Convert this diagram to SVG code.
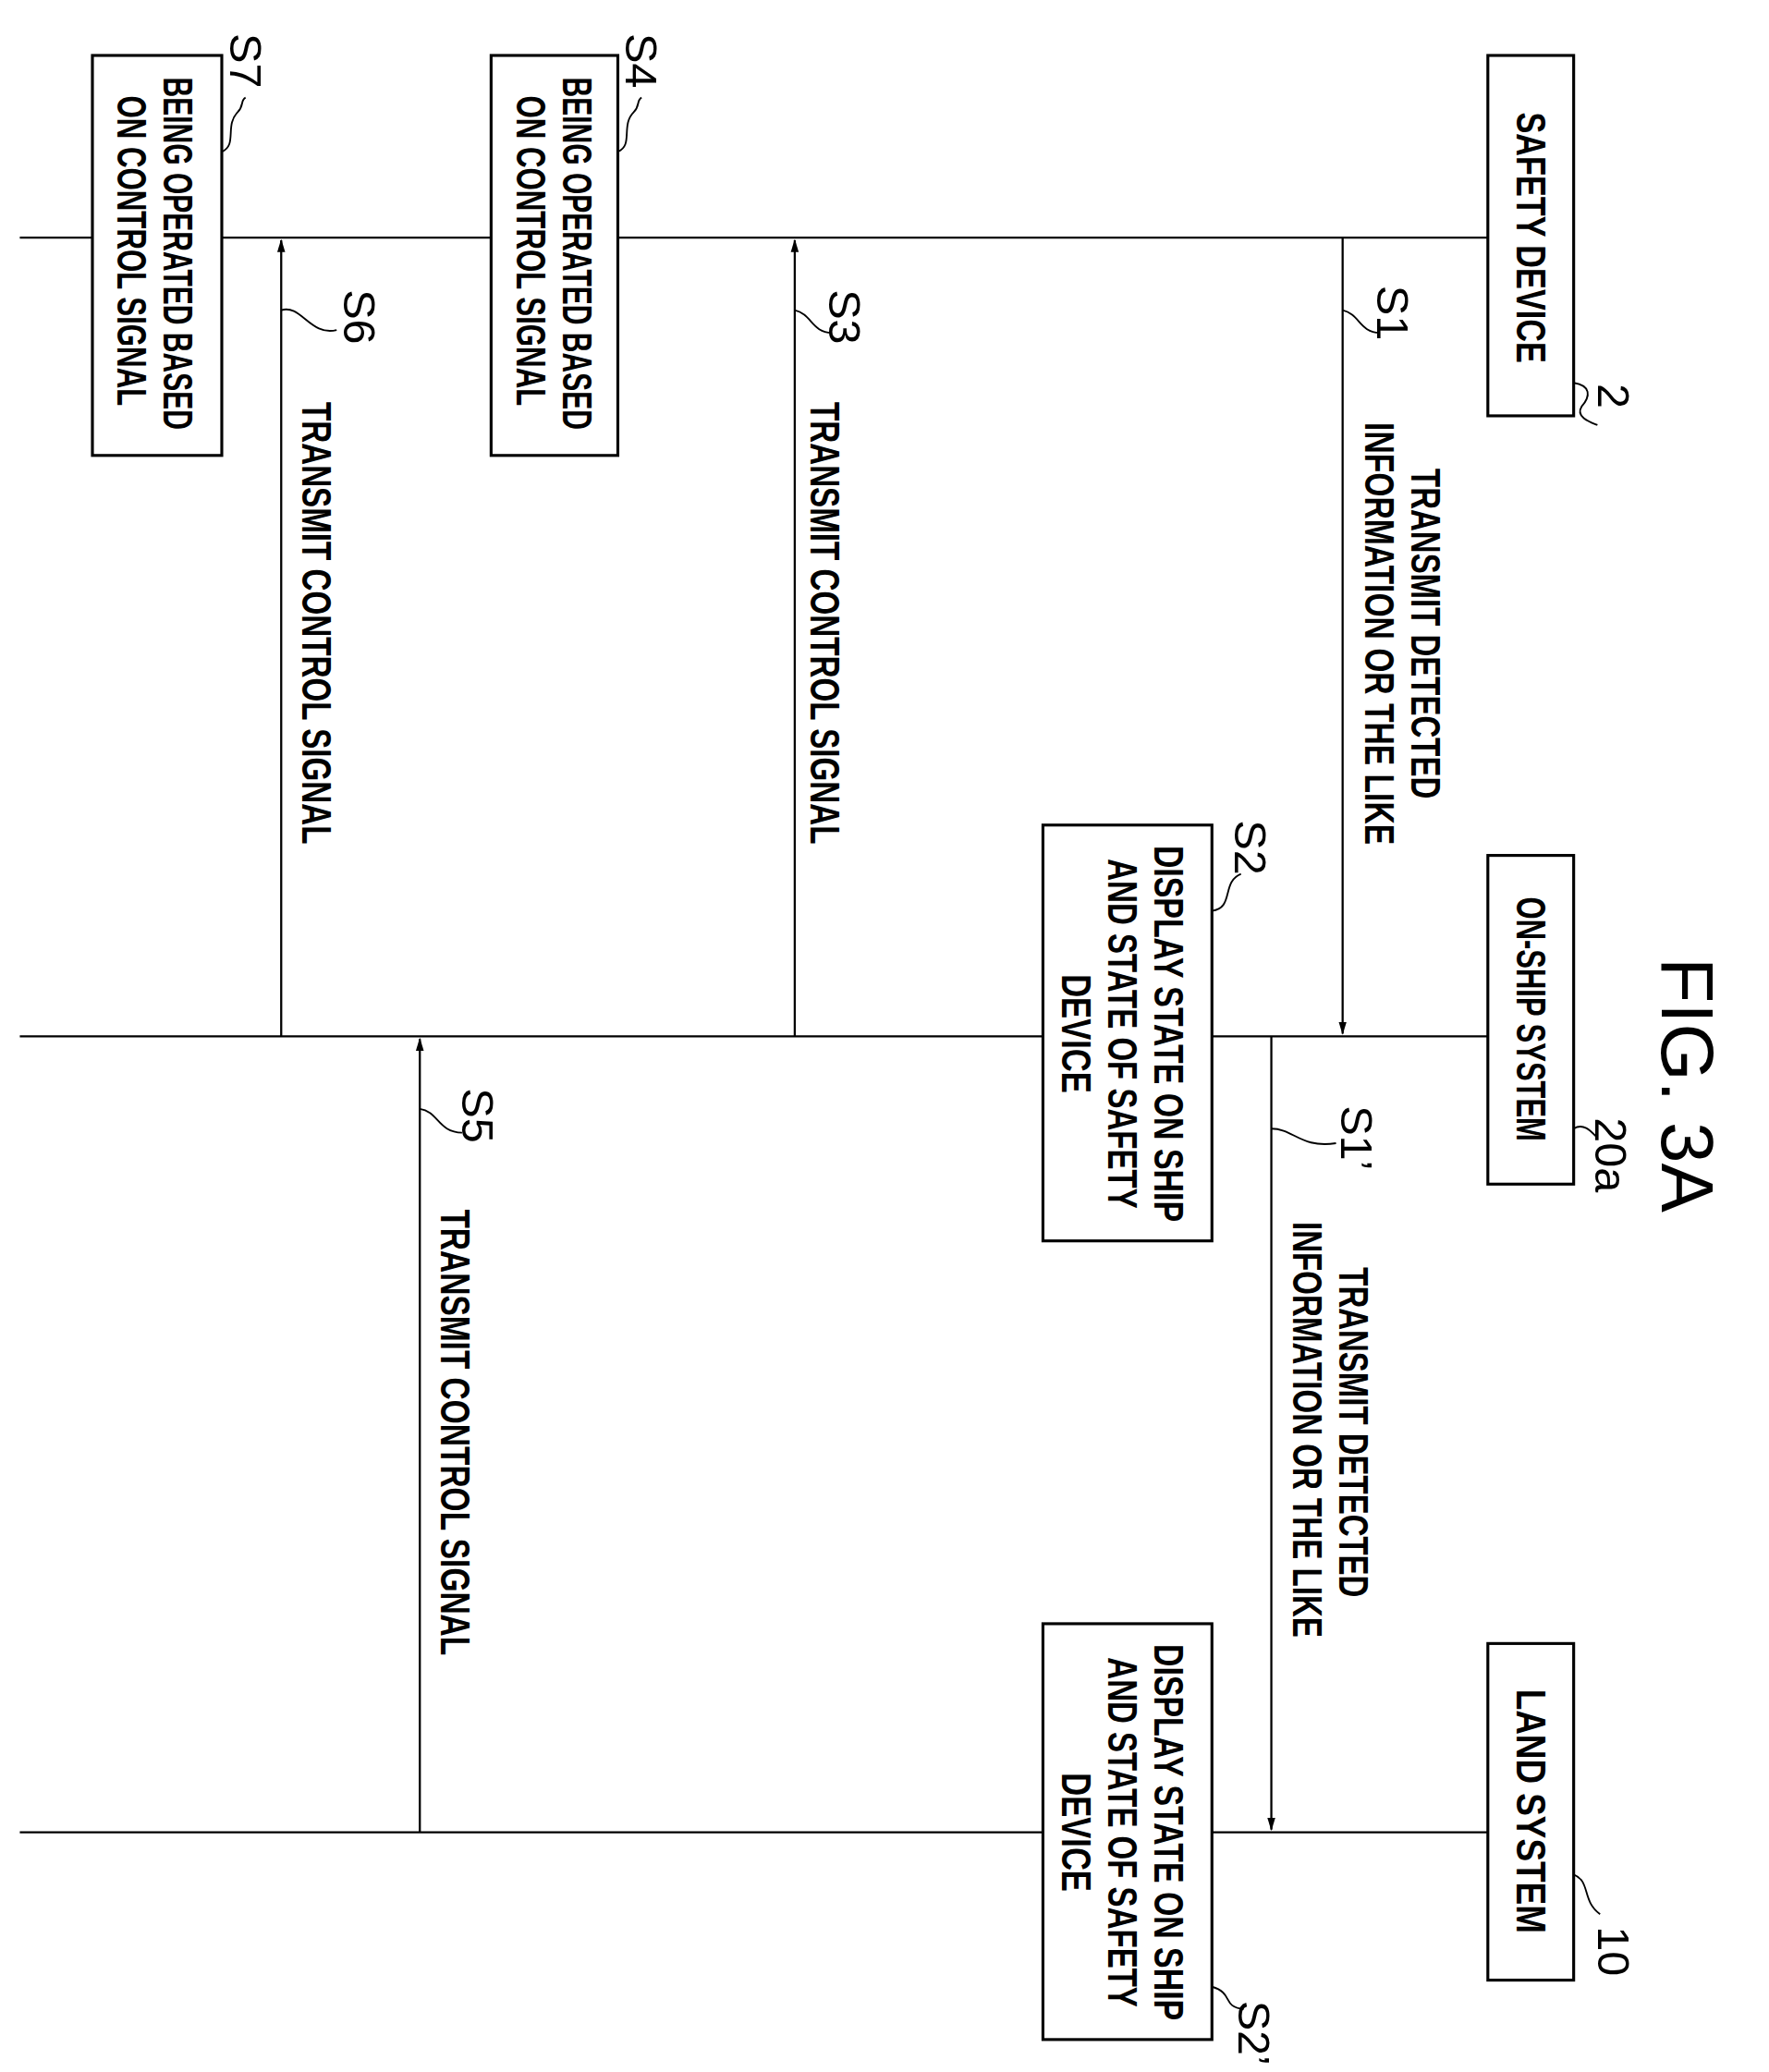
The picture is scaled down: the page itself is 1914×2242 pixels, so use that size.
<svg xmlns="http://www.w3.org/2000/svg" width="1914" height="2242" viewBox="0 0 1914 2242">
<style>
.ln{stroke:#000;stroke-width:1.6;fill:none}
.bx{stroke:#000;stroke-width:2.2;fill:#fff}
.t{font-family:"Liberation Sans",Arial,sans-serif;font-size:31px;font-weight:bold;fill:#000;text-anchor:middle;dominant-baseline:central}
.s{font-family:"Liberation Sans",Arial,sans-serif;font-size:34px;fill:#000;text-anchor:middle;dominant-baseline:central}
.lead{stroke:#000;stroke-width:1.3;fill:none}
</style>
<defs><marker id="ah" markerWidth="10" markerHeight="16" refX="9" refY="5" orient="auto" markerUnits="userSpaceOnUse" viewBox="0 0 10 10"><path d="M0,2 L10,5 L0,8 Z" fill="#000"/></marker></defs>
<rect width="1914" height="2242" fill="#fff"/>
<g transform="scale(1.4284)">
<g id="connectors">
<line class="ln" x1="15" y1="180" x2="1127" y2="180"/>
<line class="ln" x1="15" y1="785" x2="1127" y2="785"/>
<line class="ln" x1="15" y1="1388" x2="1127" y2="1388"/>
<line class="ln" x1="1017" y1="180" x2="1017" y2="783" marker-end="url(#ah)"/>
<line class="ln" x1="963" y1="785" x2="963" y2="1386" marker-end="url(#ah)"/>
<line class="ln" x1="602" y1="785" x2="602" y2="182" marker-end="url(#ah)"/>
<line class="ln" x1="318" y1="1388" x2="318" y2="787" marker-end="url(#ah)"/>
<line class="ln" x1="213" y1="785" x2="213" y2="182" marker-end="url(#ah)"/>
</g>
<g id="safety-device"><rect class="bx" x="1127" y="42" width="65" height="273"/>
<text class="t" transform="translate(1160,180) rotate(90)" textLength="190" lengthAdjust="spacingAndGlyphs">SAFETY DEVICE</text>
<path class="lead" d="M1192,290 C1205,292 1205,300 1198,308 C1193,316 1205,320 1210,322"/><text class="s" transform="translate(1222,300) rotate(90)">2</text></g>
<g id="on-ship-system"><rect class="bx" x="1127" y="648" width="65" height="249"/>
<text class="t" transform="translate(1160,772) rotate(90)" textLength="185" lengthAdjust="spacingAndGlyphs">ON-SHIP SYSTEM</text>
<path class="lead" d="M1192,855 C1200,850 1206,858 1210,862"/><text class="s" transform="translate(1220,875) rotate(90)">20a</text></g>
<g id="land-system"><rect class="bx" x="1127" y="1245" width="65" height="255"/>
<text class="t" transform="translate(1160,1372) rotate(90)" textLength="185" lengthAdjust="spacingAndGlyphs">LAND SYSTEM</text>
<path class="lead" d="M1192,1420 C1205,1425 1198,1440 1212,1450"/><text class="s" transform="translate(1222,1478) rotate(90)">10</text></g>
<g id="s1"><path class="lead" d="M1017,235 C1030,238 1030,252 1045,252"/><text class="s" transform="translate(1055,237) rotate(90)">S1</text>
<text class="t" transform="translate(1080,480) rotate(90)" textLength="250" lengthAdjust="spacingAndGlyphs">TRANSMIT DETECTED</text>
<text class="t" transform="translate(1045,480) rotate(90)" textLength="320" lengthAdjust="spacingAndGlyphs">INFORMATION OR THE LIKE</text></g>
<g id="s1p"><path class="lead" d="M963,855 C980,855 985,870 1012,866"/><text class="s" transform="translate(1028,862) rotate(90)">S1’</text>
<text class="t" transform="translate(1025,1085) rotate(90)" textLength="250" lengthAdjust="spacingAndGlyphs">TRANSMIT DETECTED</text>
<text class="t" transform="translate(990,1083) rotate(90)" textLength="315" lengthAdjust="spacingAndGlyphs">INFORMATION OR THE LIKE</text></g>
<g id="s2"><rect class="bx" x="790" y="625" width="128" height="315"/>
<text class="t" transform="translate(885,783) rotate(90)" textLength="285" lengthAdjust="spacingAndGlyphs">DISPLAY STATE ON SHIP</text>
<text class="t" transform="translate(850,783) rotate(90)" textLength="265" lengthAdjust="spacingAndGlyphs">AND STATE OF SAFETY</text>
<text class="t" transform="translate(815,783) rotate(90)" textLength="90" lengthAdjust="spacingAndGlyphs">DEVICE</text>
<path class="lead" d="M918,690 C935,688 925,668 940,662"/><text class="s" transform="translate(947,642) rotate(90)">S2</text></g>
<g id="s2p"><rect class="bx" x="790" y="1230" width="128" height="315"/>
<text class="t" transform="translate(885,1388) rotate(90)" textLength="285" lengthAdjust="spacingAndGlyphs">DISPLAY STATE ON SHIP</text>
<text class="t" transform="translate(850,1388) rotate(90)" textLength="265" lengthAdjust="spacingAndGlyphs">AND STATE OF SAFETY</text>
<text class="t" transform="translate(815,1388) rotate(90)" textLength="90" lengthAdjust="spacingAndGlyphs">DEVICE</text>
<path class="lead" d="M918,1505 C935,1510 925,1520 942,1522"/><text class="s" transform="translate(950,1540) rotate(90)">S2’</text></g>
<g id="s3"><path class="lead" d="M602,235 C615,238 615,252 630,252"/><text class="s" transform="translate(640,240) rotate(90)">S3</text>
<text class="t" transform="translate(625,472) rotate(90)" textLength="335" lengthAdjust="spacingAndGlyphs">TRANSMIT CONTROL SIGNAL</text></g>
<g id="s4"><rect class="bx" x="372" y="42" width="96" height="303"/>
<text class="t" transform="translate(437,192) rotate(90)" textLength="267" lengthAdjust="spacingAndGlyphs">BEING OPERATED BASED</text>
<text class="t" transform="translate(402,190) rotate(90)" textLength="235" lengthAdjust="spacingAndGlyphs">ON CONTROL SIGNAL</text>
<path class="lead" d="M468,115 C480,110 470,95 480,85 C485,80 482,76 486,74"/><text class="s" transform="translate(486,46) rotate(90)">S4</text></g>
<g id="s5"><path class="lead" d="M318,840 C332,842 332,858 350,858"/><text class="s" transform="translate(362,845) rotate(90)">S5</text>
<text class="t" transform="translate(345,1085) rotate(90)" textLength="338" lengthAdjust="spacingAndGlyphs">TRANSMIT CONTROL SIGNAL</text></g>
<g id="s6"><path class="lead" d="M213,235 C228,230 235,255 255,250"/><text class="s" transform="translate(272,240) rotate(90)">S6</text>
<text class="t" transform="translate(240,472) rotate(90)" textLength="335" lengthAdjust="spacingAndGlyphs">TRANSMIT CONTROL SIGNAL</text></g>
<g id="s7"><rect class="bx" x="70" y="42" width="98" height="303"/>
<text class="t" transform="translate(135,192) rotate(90)" textLength="267" lengthAdjust="spacingAndGlyphs">BEING OPERATED BASED</text>
<text class="t" transform="translate(100,190) rotate(90)" textLength="235" lengthAdjust="spacingAndGlyphs">ON CONTROL SIGNAL</text>
<path class="lead" d="M168,115 C180,110 170,95 180,85 C185,80 182,76 186,74"/><text class="s" transform="translate(186,46) rotate(90)">S7</text></g>
<g id="title"><text class="s" style="font-size:56px" transform="translate(1278,822) rotate(90)">FIG. 3A</text></g>
</g>
</svg>
